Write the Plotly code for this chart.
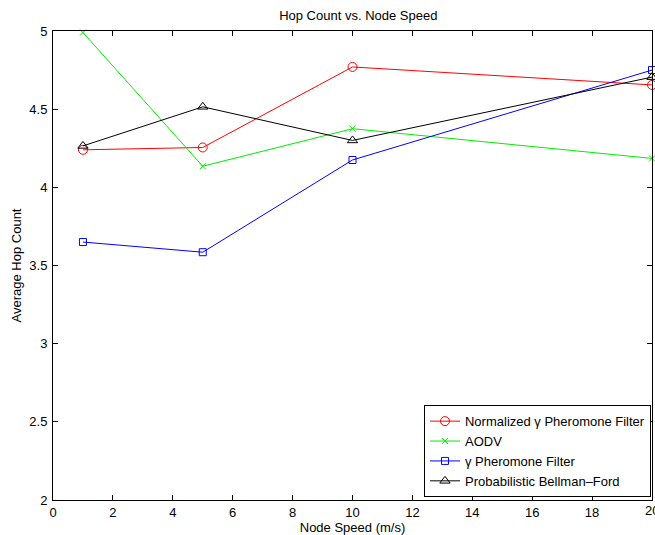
import plotly.graph_objects as go

speeds = [1, 5, 10, 20]
norm_gamma = [4.24, 4.255, 4.77, 4.655]
aodv = [4.99, 4.135, 4.375, 4.185]
gamma = [3.65, 3.585, 4.175, 4.75]
pbf = [4.265, 4.515, 4.3, 4.705]
x_ticks = list(range(0, 21, 2))
y_ticks = [2, 2.5, 3, 3.5, 4, 4.5, 5]

series = [
    ("Normalized \u03b3 Pheromone Filter", norm_gamma, "red", "circle-open", 9),
    ("AODV", aodv, "#00ee00", "x-thin-open", 6),
    ("\u03b3 Pheromone Filter", gamma, "blue", "square-open", 7),
    ("Probabilistic Bellman\u2013Ford", pbf, "black", "triangle-up-open", 9),
]

fig = go.Figure()
for name, ys, color, sym, sz in series:
    fig.add_trace(go.Scatter(
        x=speeds, y=ys, name=name, mode="lines+markers",
        line=dict(color=color, width=1),
        marker=dict(symbol=sym, size=sz, color=color, line=dict(width=1, color=color)),
        cliponaxis=False,
    ))

font = "Liberation Sans, Arial, Helvetica, sans-serif"
FS = 13
axis_common = dict(
    showgrid=False, zeroline=False, showline=True, linecolor="black", linewidth=1,
    mirror="ticks", ticks="inside", ticklen=5, tickcolor="black", tickwidth=1,
    tickfont=dict(family=font, size=FS, color="black"),
)
fig.update_layout(
    width=655, height=535,
    margin=dict(l=53, r=3, t=31, b=35),
    paper_bgcolor="white", plot_bgcolor="white",
    font=dict(family=font, size=FS, color="black"),
    title=dict(text="Hop Count vs. Node Speed", x=0.547, xanchor="center", y=0.972, yanchor="middle",
               font=dict(family=font, size=FS, color="black")),
    xaxis=dict(range=[0, 20], tickvals=x_ticks, ticklabelstandoff=0,
               title=dict(text="Node Speed (m/s)", standoff=2, font=dict(size=FS)), **axis_common),
    yaxis=dict(range=[2, 5], tickvals=y_ticks, ticklabelstandoff=2,
               title=dict(text="Average Hop Count", standoff=4, font=dict(size=FS)), **axis_common),
    legend=dict(x=0.9983, y=0.006, xanchor="right", yanchor="bottom",
                bgcolor="white", bordercolor="black", borderwidth=1,
                font=dict(family=font, size=FS, color="black"),
                tracegroupgap=0, itemwidth=30),
    showlegend=True,
)
# last x tick label (clipped at the right edge in the original)
fig.add_annotation(x=x_ticks[-1], y=0, xref="x", yref="paper", text=str(x_ticks[-1]),
                   showarrow=False, yanchor="top", xanchor="center", yshift=-1,
                   font=dict(family=font, size=FS, color="black"))
fig.write_html("out.html")
